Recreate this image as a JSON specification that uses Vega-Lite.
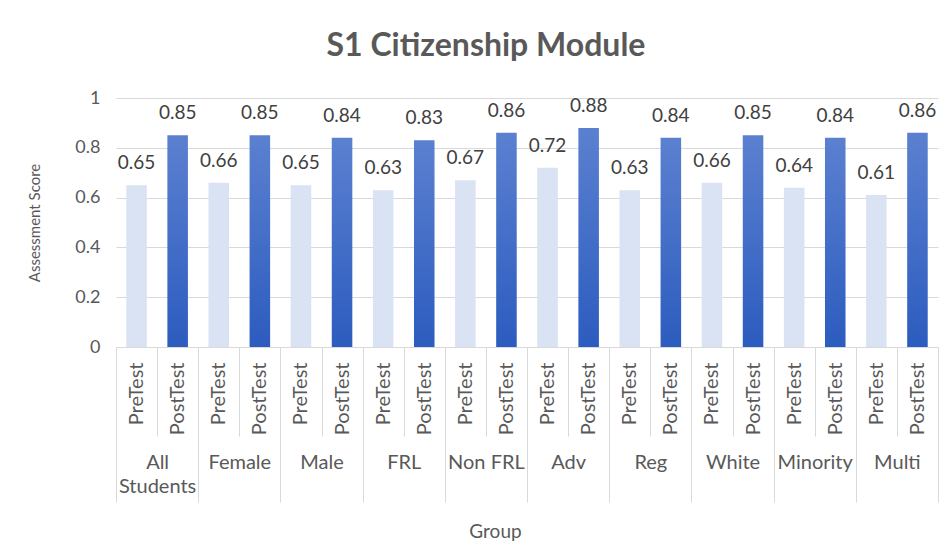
{
  "$schema": "https://vega.github.io/schema/vega-lite/v6.json",
  "width": 822,
  "height": 249,
  "autosize": {"type": "none"},
  "padding": {"left": 116, "top": 98, "right": 14, "bottom": 209},
  "background": "white",
  "config": {"font": "Lato", "view": {"stroke": null}},
  "title": {"text": "S1 Citizenship Module", "fontSize": 32, "font": "Lato", "fontWeight": "bold", "color": "#595959", "offset": 26, "dx": -41, "anchor": "middle"},
  "data": {"values": [
    {"group": "All Students", "test": "PreTest", "score": 0.65},
    {"group": "All Students", "test": "PostTest", "score": 0.85},
    {"group": "Female", "test": "PreTest", "score": 0.66},
    {"group": "Female", "test": "PostTest", "score": 0.85},
    {"group": "Male", "test": "PreTest", "score": 0.65},
    {"group": "Male", "test": "PostTest", "score": 0.84},
    {"group": "FRL", "test": "PreTest", "score": 0.63},
    {"group": "FRL", "test": "PostTest", "score": 0.83},
    {"group": "Non FRL", "test": "PreTest", "score": 0.67},
    {"group": "Non FRL", "test": "PostTest", "score": 0.86},
    {"group": "Adv", "test": "PreTest", "score": 0.72},
    {"group": "Adv", "test": "PostTest", "score": 0.88},
    {"group": "Reg", "test": "PreTest", "score": 0.63},
    {"group": "Reg", "test": "PostTest", "score": 0.84},
    {"group": "White", "test": "PreTest", "score": 0.66},
    {"group": "White", "test": "PostTest", "score": 0.85},
    {"group": "Minority", "test": "PreTest", "score": 0.64},
    {"group": "Minority", "test": "PostTest", "score": 0.84},
    {"group": "Multi", "test": "PreTest", "score": 0.61},
    {"group": "Multi", "test": "PostTest", "score": 0.86}
  ]},
  "transform": [{"calculate": "datum.group + '|' + datum.test", "as": "key"}],
  "resolve": {"scale": {"x": "independent"}, "axis": {"x": "independent"}},
  "layer": [
    {
      "encoding": {
        "x": {"field": "key", "type": "nominal", "sort": null,
          "scale": {"paddingInner": 0, "paddingOuter": 0},
          "axis": {"orient": "bottom", "title": null, "labelExpr": "split(datum.label,'|')[1]", "labelAngle": -90, "labelAlign": "right", "labelBaseline": "middle", "tickBand": "extent", "tickSize": 89, "tickColor": "#d9d9d9", "domainColor": "#d9d9d9", "labelPadding": -74, "labelFontSize": 20, "labelColor": "#595959", "grid": false}},
        "y": {"field": "score", "type": "quantitative",
          "scale": {"domain": [0, 1], "nice": false},
          "axis": {"title": "Assessment Score", "values": [0, 0.2, 0.4, 0.6, 0.8, 1], "format": "~g", "domain": false, "ticks": false, "gridColor": "#d9d9d9", "labelFontSize": 18, "labelColor": "#595959", "labelPadding": 16, "titleFontSize": 15, "titleFontWeight": "normal", "titleColor": "#595959", "titlePadding": 32}}
      },
      "layer": [
        {
          "mark": {"type": "bar", "width": {"band": 0.5}},
          "encoding": {
            "fill": {
              "condition": {"test": "datum.test == 'PostTest'", "value": {"gradient": "linear", "x1": 0, "y1": 0, "x2": 0, "y2": 1, "stops": [{"offset": 0, "color": "#5b80d0"}, {"offset": 1, "color": "#2c5cbf"}]}},
              "value": "#dae3f3"
            }
          }
        },
        {
          "mark": {"type": "text", "baseline": "middle", "dy": -22, "fontSize": 19, "color": "#404040"},
          "encoding": {"text": {"field": "score", "type": "quantitative", "format": ".2f"}}
        }
      ]
    },
    {
      "mark": {"type": "rule", "opacity": 0},
      "encoding": {
        "x": {"field": "group", "type": "nominal", "sort": null,
          "scale": {"paddingInner": 0, "paddingOuter": 0},
          "axis": {"orient": "bottom", "title": "Group", "tickBand": "extent", "tickSize": 155, "labelPadding": -50, "labelAngle": 0, "labelBaseline": "top", "labelFontSize": 20, "labelColor": "#595959", "labelLineHeight": 24, "labelExpr": "datum.label == 'All Students' ? ['All', 'Students'] : datum.label", "domain": false, "tickColor": "#d9d9d9", "grid": false, "titleFontSize": 19, "titleFontWeight": "normal", "titleColor": "#595959", "titlePadding": 20, "titleX": 379}}
      }
    }
  ]
}
